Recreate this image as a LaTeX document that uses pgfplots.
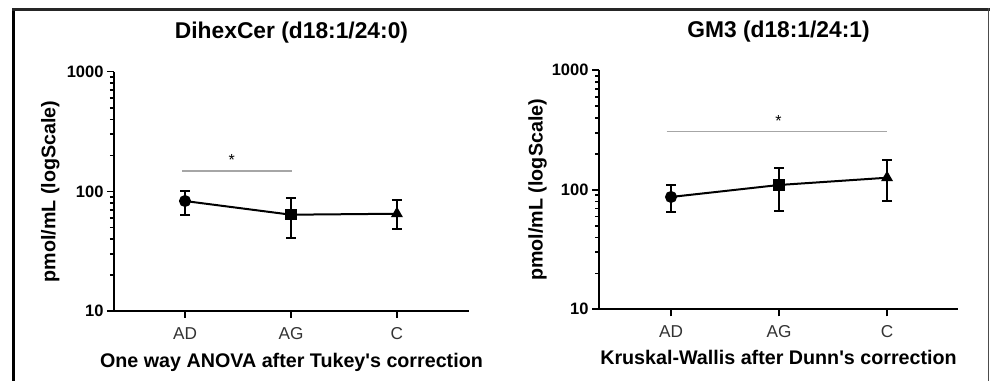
\documentclass[border=0pt]{standalone}
\usepackage{fontspec}
\setmainfont{Liberation Sans}
\usepackage{pgfplots}
\pgfplotsset{compat=1.18}
\usepackage{pgfplotstable}

% mean, upper and lower error, group marker
\pgfplotstableread{
x y ep em cls
0 83.0 17.6 19.2 a
1 63.8 23.6 22.8 b
2 65.0 19.6 16.9 c
}\dihexcer
\pgfplotstableread{
x y ep em cls
0 87.1 22.6 21.5 a
1 109.7 41.7 42.8 b
2 126.2 51.4 45.1 c
}\gmthree

\pgfplotsset{
  lipidpanel/.style={
    scale only axis,
    ymin=10, ymax=1000,
    axis x line*=bottom, axis y line*=left,
    axis line style={line width=2bp, black, -},
    xtick={0,1,2}, xticklabels={AD,AG,C},
    ytick={10,100,1000}, yticklabels={10,100,1000},
    minor ytick={20,30,40,50,60,70,80,90,200,300,400,500,600,700,800,900},
    tick align=outside,
    major tick length=7bp, minor tick length=4bp,
    tick style={line width=1.6bp, black},
    yticklabel style={font=\bfseries\fontsize{16.5bp}{16.5bp}\selectfont, anchor=east},
    xticklabel style={font=\fontsize{17.2bp}{17.2bp}\selectfont, text=black!80, yshift=-6bp},
    title style={font=\bfseries\fontsize{22.8bp}{22.8bp}\selectfont,
      at={(axis description cs:0.5,1)}, anchor=base},
    xlabel style={font=\bfseries\fontsize{19.7bp}{19.7bp}\selectfont,
      at={(axis description cs:0.5,0)}, anchor=base},
    ylabel style={font=\bfseries\fontsize{19.7bp}{19.7bp}\selectfont, anchor=base},
    ylabel={pmol/mL (logScale)},
    clip=false,
  },
  groupline/.style={
    black, line width=2bp,
    scatter, point meta=explicit symbolic,
    scatter/classes={
      a={mark=*, mark size=5bp, black},
      b={mark=square*, mark size=4.6bp, black},
      c={mark=triangle*, mark size=5bp, black}},
    error bars/y dir=both, error bars/y explicit,
    error bars/error mark=|,
    error bars/error bar style={line width=2bp, black},
    error bars/error mark options={line width=2bp, mark size=5bp, black},
  },
}

\begin{document}
\begin{tikzpicture}
\path[use as bounding box, fill=white] (0,0) rectangle (990bp,381bp);
% outer frame
\draw[line width=3.5bp, black] (13.5bp,0) -- (13.5bp,373bp);
\draw[line width=3bp, black!85] (12bp,371.5bp) -- (989.5bp,371.5bp);
\draw[line width=1.5bp, black!70] (988.5bp,0) -- (988.5bp,373bp);

\begin{axis}[ymode=log, lipidpanel,
  at={(114bp,70bp)}, anchor=south west,
  width=355bp, height=239.3bp,
  xmin=-0.67, xmax=2.68,
  title={DihexCer (d18:1/24:0)},
  title style={yshift=27bp},
  xlabel={One way ANOVA after Tukey\textquotesingle s correction},
  xlabel style={yshift=-56.5bp},
  ylabel style={at={([xshift=-58.7bp]axis description cs:0,0.5)}},
]
\addplot[gray!70, line width=1.2bp] coordinates {(-0.025,148) (1.007,148)};
\node[font=\fontsize{16bp}{16bp}\selectfont] at (axis cs:0.44,182) {*};
\addplot[groupline] table[x=x, y=y, y error plus=ep, y error minus=em, meta=cls] {\dihexcer};
\end{axis}

\begin{axis}[ymode=log, lipidpanel,
  at={(599bp,71.7bp)}, anchor=south west,
  width=359bp, height=239bp,
  xmin=-0.667, xmax=2.657,
  title={GM3 (d18:1/24:1)},
  title style={yshift=26.5bp},
  xlabel={Kruskal-Wallis after Dunn\textquotesingle s correction},
  xlabel style={yshift=-55.5bp},
  ylabel style={at={([xshift=-56.3bp]axis description cs:0,0.5)}},
]
\addplot[gray!70, line width=1.2bp] coordinates {(-0.04,306) (2.003,306)};
\node[font=\fontsize{16bp}{16bp}\selectfont] at (axis cs:0.994,380) {*};
\addplot[groupline] table[x=x, y=y, y error plus=ep, y error minus=em, meta=cls] {\gmthree};
\end{axis}
\end{tikzpicture}
\end{document}
